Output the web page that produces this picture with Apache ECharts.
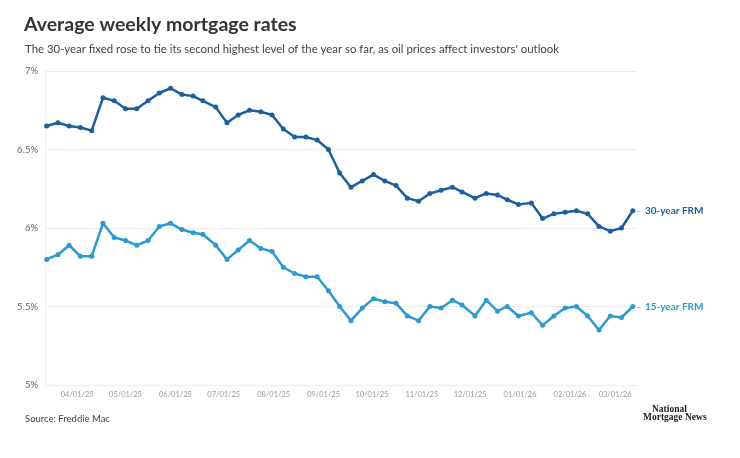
<!DOCTYPE html>
<html>
<head>
<meta charset="utf-8">
<script src="https://cdn.jsdelivr.net/npm/echarts@6/dist/echarts.min.js"></script>
<style>
html,body{margin:0;padding:0;background:#fff;}
#c{width:740px;height:458px;}
</style>
</head>
<body>
<div id="c"></div>
<script>
const dates = [
 '2025-03-13','2025-03-20','2025-03-27','2025-04-03','2025-04-10','2025-04-17','2025-04-24',
 '2025-05-01','2025-05-08','2025-05-15','2025-05-22','2025-05-29','2025-06-05','2025-06-12',
 '2025-06-18','2025-06-26','2025-07-03','2025-07-10','2025-07-17','2025-07-24','2025-07-31',
 '2025-08-07','2025-08-14','2025-08-21','2025-08-28','2025-09-04','2025-09-11','2025-09-18',
 '2025-09-25','2025-10-02','2025-10-09','2025-10-16','2025-10-23','2025-10-30','2025-11-06',
 '2025-11-13','2025-11-20','2025-11-26','2025-12-04','2025-12-11','2025-12-18','2025-12-24',
 '2025-12-31','2026-01-08','2026-01-15','2026-01-22','2026-01-29','2026-02-05','2026-02-12',
 '2026-02-19','2026-02-26','2026-03-05','2026-03-12'
];
const frm30 = [
 6.65,6.67,6.65,6.64,6.62,6.83,6.81,
 6.76,6.76,6.81,6.86,6.89,6.85,6.84,
 6.81,6.77,6.67,6.72,6.75,6.74,6.72,
 6.63,6.58,6.58,6.56,6.50,6.35,6.26,
 6.30,6.34,6.30,6.27,6.19,6.17,6.22,
 6.24,6.26,6.23,6.19,6.22,6.21,6.18,
 6.15,6.16,6.06,6.09,6.10,6.11,6.09,
 6.01,5.98,6.00,6.11
];
const frm15 = [
 5.80,5.83,5.89,5.82,5.82,6.03,5.94,
 5.92,5.89,5.92,6.01,6.03,5.99,5.97,
 5.96,5.89,5.80,5.86,5.92,5.87,5.85,
 5.75,5.71,5.69,5.69,5.60,5.50,5.41,
 5.49,5.55,5.53,5.52,5.44,5.41,5.50,
 5.49,5.54,5.51,5.44,5.54,5.47,5.50,
 5.44,5.46,5.38,5.44,5.49,5.50,5.44,
 5.35,5.44,5.43,5.50
];
const yTicks = [5, 5.5, 6, 6.5, 7];
const seriesNames = ['30-year FRM', '15-year FRM'];

const toTs = d => { const p = d.split('-').map(Number); return Date.UTC(p[0], p[1]-1, p[2]); };
const pad2 = n => (n < 10 ? '0' : '') + n;

const chart = echarts.init(document.getElementById('c'), null, {renderer: 'canvas'});
const FONT = 'Lato, "Noto Sans", sans-serif';
const C30 = '#1b5f9e', C15 = '#2a9ad4';

chart.setOption({
  animation: false,
  backgroundColor: '#fff',
  useUTC: true,
  title: [
    {text: 'Average weekly mortgage rates', left: 19, top: 10,
     textStyle: {fontFamily: FONT, fontSize: 19.5, fontWeight: 'bold', color: '#333'}},
    {text: "The 30-year fixed rose to tie its second highest level of the year so far, as oil prices affect investors' outlook",
     left: 20, top: 39, textStyle: {fontFamily: FONT, fontSize: 11.4, fontWeight: 'normal', color: '#444'}},
    {text: 'Source: Freddie Mac', left: 20, top: 409,
     textStyle: {fontFamily: FONT, fontSize: 9.5, fontWeight: 'normal', color: '#444'}}
  ],
  graphic: [
    {type: 'text', left: 652, top: 405, style: {text: 'National', font: 'bold 9.5px "Liberation Serif", serif', fill: '#222'}},
    {type: 'text', left: 643, top: 413, style: {text: 'Mortgage News', font: 'bold 9.5px "Liberation Serif", serif', fill: '#222'}}
  ],
  grid: {left: 45, right: 104, top: 71, bottom: 73, containLabel: false},
  xAxis: {
    type: 'time',
    min: toTs('2025-03-12'),
    max: toTs('2026-03-14'),
    minInterval: 28 * 86400000,
    maxInterval: 31 * 86400000,
    axisLine: {show: false},
    axisTick: {show: false},
    splitLine: {show: false},
    axisLabel: {
      fontFamily: FONT, fontSize: 7.5, color: '#999', margin: 6,
      showMinLabel: false, showMaxLabel: false,
      formatter: function (v) {
        const d = new Date(v);
        return pad2(d.getUTCMonth() + 1) + '/' + pad2(d.getUTCDate()) + '/' + String(d.getUTCFullYear()).slice(2);
      }
    }
  },
  yAxis: {
    type: 'value',
    min: yTicks[0], max: yTicks[yTicks.length - 1], interval: 0.5,
    axisLine: {show: true, lineStyle: {color: '#f2f2f2'}},
    axisTick: {show: false},
    splitLine: {lineStyle: {color: '#ececec', width: 1}},
    axisLabel: {fontFamily: FONT, fontSize: 9.5, color: '#666', margin: 7,
      formatter: v => v + '%'}
  },
  series: [
    {
      name: seriesNames[0], type: 'line',
      data: dates.map((d, i) => [toTs(d), frm30[i]]),
      color: C30,
      lineStyle: {width: 2.5, color: C30},
      symbol: 'circle', symbolSize: 5, showSymbol: true,
      itemStyle: {color: C30},
      endLabel: {
        show: true, distance: 3,
        formatter: () => '{d|–} {t|' + seriesNames[0] + '}',
        rich: {
          d: {color: '#aaa', fontSize: 10, fontFamily: FONT},
          t: {color: C30, fontSize: 10, fontWeight: 'bold', fontFamily: FONT}
        }
      }
    },
    {
      name: seriesNames[1], type: 'line',
      data: dates.map((d, i) => [toTs(d), frm15[i]]),
      color: C15,
      lineStyle: {width: 2.5, color: C15},
      symbol: 'circle', symbolSize: 5, showSymbol: true,
      itemStyle: {color: C15},
      endLabel: {
        show: true, distance: 3,
        formatter: () => '{d|–} {t|' + seriesNames[1] + '}',
        rich: {
          d: {color: '#aaa', fontSize: 10, fontFamily: FONT},
          t: {color: C15, fontSize: 10, fontWeight: 'bold', fontFamily: FONT}
        }
      }
    }
  ]
});
</script>
</body>
</html>
